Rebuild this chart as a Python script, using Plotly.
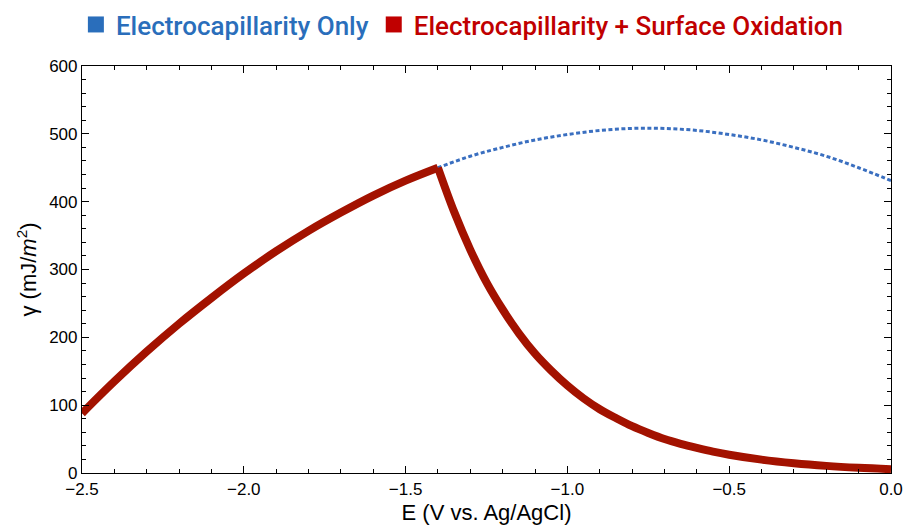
import plotly.graph_objects as go

# Potential (V vs. Ag/AgCl) and surface tension (mJ/m^2)
E_blue = [-2.5, -2.4, -2.3, -2.2, -2.1, -2.0, -1.9, -1.8, -1.7, -1.6, -1.5, -1.4,
          -1.3, -1.2, -1.1, -1.0, -0.9, -0.8, -0.7, -0.6, -0.5, -0.4, -0.3, -0.2, -0.1, 0.0]
gamma_blue = [88, 135, 179, 220, 258, 294, 327, 357, 384, 409, 431, 450,
              467, 480, 491, 499, 505, 508, 508, 505, 499, 491, 480, 467, 450, 431]

# red curve: rising electrocapillary branch, then oxidation decay
E_red_rise = [-2.5, -2.4, -2.3, -2.2, -2.1, -2.0, -1.9, -1.8, -1.7, -1.6, -1.5, -1.4]
gamma_red_rise = [88, 135, 179, 220, 258, 294, 327, 357, 384, 409, 431, 450]
E_red_decay = [-1.4, -1.35, -1.3, -1.25, -1.2, -1.15, -1.1, -1.05, -1.0, -0.95, -0.9, -0.85,
               -0.8, -0.75, -0.7, -0.65, -0.6, -0.55, -0.5, -0.4, -0.3, -0.2, -0.1, 0.0]
gamma_red_decay = [450, 385, 329, 281, 241, 206, 176, 151, 129, 110, 94, 81,
                   69, 59, 50, 43, 37, 31.5, 27, 19.7, 14.4, 10.5, 7.7, 5.6]

names = ["Electrocapillarity Only", "Electrocapillarity + Surface Oxidation"]
legend_colors = ["#2a6ebb", "#c00000"]
blue = "#3a6fc0"
red = "#a31200"

fig = go.Figure()
fig.add_trace(go.Scatter(x=E_blue, y=gamma_blue, mode="lines", line_shape="spline",
                         line=dict(color=blue, width=3, dash="4px,2.5px"), showlegend=False))
for ex, gy in [(E_red_rise, gamma_red_rise), (E_red_decay, gamma_red_decay)]:
    fig.add_trace(go.Scatter(x=ex, y=gy, mode="lines", line_shape="spline",
                             line=dict(color=red, width=8), showlegend=False))
for n, c in zip(names, legend_colors):
    fig.add_trace(go.Scatter(x=[None], y=[None], mode="markers",
                             marker=dict(symbol="square", size=16, color=c),
                             name=f"<span style='color:{c}'>{n}</span>"))

tick_font = dict(family="Liberation Sans, Arial", size=17, color="black")
title_font = dict(family="Liberation Sans, Arial", size=22, color="black")
axis_common = dict(showline=True, linecolor="black", linewidth=1.2, mirror="allticks",
                   ticks="inside", ticklen=7, tickcolor="black", showgrid=False,
                   zeroline=False, tickfont=tick_font)
fig.update_xaxes(range=[-2.5, 0], dtick=0.5, tickformat=".1f",
                 minor=dict(ticks="inside", ticklen=4, dtick=0.1, tickcolor="black", showgrid=False),
                 title=dict(text="E (V vs. Ag/AgCl)", font=title_font, standoff=7),
                 **axis_common)
fig.update_yaxes(range=[0, 600], dtick=100,
                 minor=dict(ticks="inside", ticklen=4, dtick=20, tickcolor="black", showgrid=False),
                 title=dict(text="γ (mJ/<i>m</i><sup>2</sup>)", font=title_font, standoff=6),
                 **axis_common)
fig.update_layout(
    width=912, height=529,
    margin=dict(l=82, r=21, t=66, b=56, autoexpand=False),
    plot_bgcolor="white", paper_bgcolor="white",
    legend=dict(orientation="h", x=0.507, xref="container", xanchor="center",
                y=0.998, yref="container", yanchor="top",
                font=dict(family="Roboto", size=26, weight=500), tracegroupgap=0),
)
fig.write_html("out.html")
